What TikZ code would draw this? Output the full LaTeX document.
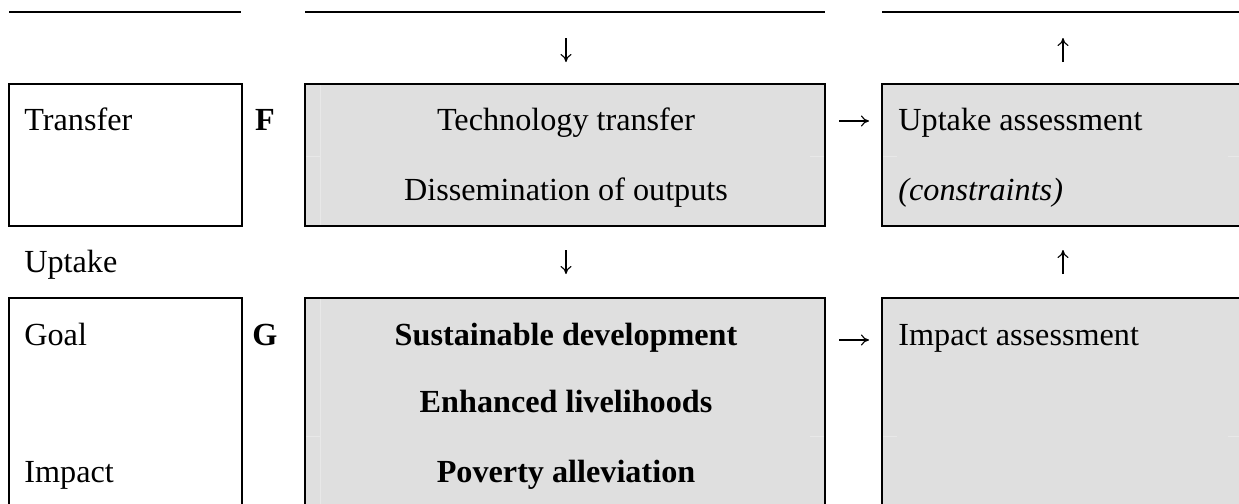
\documentclass[tikz,border=0pt]{standalone}
\usepackage{fontspec}
\setmainfont{Liberation Serif}
\usetikzlibrary{arrows.meta}
\definecolor{cellgray}{RGB}{223,223,223}
\definecolor{cellrule}{RGB}{232,232,232}

\begin{document}
\begin{tikzpicture}[x=0.5pt,y=-0.5pt,
  frame/.style={draw=black,line width=0.8pt,inner sep=0,outer sep=0},
  plainbox/.style={frame,fill=white},
  shaded/.style={frame,fill=cellgray},
  txt/.style={inner sep=0,font=\fontsize{16.1}{19}\selectfont},
  lbl/.style={txt,anchor=base west},
  ctr/.style={txt,anchor=base},
  flow/.style={line width=0.55pt,-{To[length=4pt,width=5.5pt]}},
  rule/.style={line width=0.8pt},
  faint/.style={draw=cellrule,line width=0.4pt}]
\useasboundingbox (0,0) rectangle (1239,504);
\clip (0,0) rectangle (1239,504);

% top rules of the three columns
\draw[rule] (9,12) -- (241,12);
\draw[rule] (305,12) -- (825,12);
\draw[rule] (882,12) -- (1245,12);

% row F boxes
\node[plainbox, minimum width=116.5pt, minimum height=71pt] (lf) at (125.5,155) {};
\node[shaded, minimum width=260pt, minimum height=71pt] (mf) at (565,155) {};
\node[shaded, minimum width=186pt, minimum height=71pt] (rf) at (1068,155) {};

% row G boxes
\node[plainbox, minimum width=116.5pt, minimum height=115pt] (lg) at (125.5,413) {};
\node[shaded, minimum width=260pt, minimum height=115pt] (mg) at (565,413) {};
\node[shaded, minimum width=186pt, minimum height=115pt] (rg) at (1068,413) {};

% faint cell rules inside the shaded boxes
\draw[faint] (320,85) -- (320,225);
\draw[faint] (306,156) -- (320,156);
\draw[faint] (810,156) -- (824,156);
\draw[faint] (883,156) -- (897,156);
\draw[faint] (1228,156) -- (1239,156);
\draw[faint] (320,299) -- (320,504);
\draw[faint] (306,436) -- (320,436);
\draw[faint] (810,436) -- (824,436);
\draw[faint] (883,436) -- (897,436);
\draw[faint] (1228,436) -- (1239,436);

% arrow end points
\coordinate (dn1a) at (566,38);  \coordinate (dn1b) at (566,62);
\coordinate (up1a) at (1063,62); \coordinate (up1b) at (1063,38);
\coordinate (dn2a) at (566,250); \coordinate (dn2b) at (566,274);
\coordinate (up2a) at (1063,274); \coordinate (up2b) at (1063,250);
\coordinate (rt1a) at (839,121); \coordinate (rt1b) at (869,121);
\coordinate (rt2a) at (839,340); \coordinate (rt2b) at (869,340);

\draw[flow] (dn1a) -- (dn1b);
\draw[flow] (up1a) -- (up1b);
\draw[flow] (dn2a) -- (dn2b);
\draw[flow] (up2a) -- (up2b);
\draw[flow] (rt1a) -- (rt1b);
\draw[flow] (rt2a) -- (rt2b);

% left column labels
\node[lbl] (ttransfer) at (24,130) {Transfer};
\node[lbl] (tuptake) at (24,272) {Uptake};
\node[lbl] (tgoal) at (24,345) {Goal};
\node[lbl] (timpact) at (24,482) {Impact};

% row letters
\node[ctr] (tf) at (265,130) {\textbf{F}};
\node[ctr] (tg) at (265,345) {\textbf{G}};

% middle column texts
\node[ctr] (ttech) at (566,130) {Technology transfer};
\node[ctr] (tdiss) at (566,200) {Dissemination of outputs};
\node[ctr] (tsust) at (566,345) {\textbf{Sustainable development}};
\node[ctr] (tenh) at (566,412) {\textbf{Enhanced livelihoods}};
\node[ctr] (tpov) at (566,482) {\textbf{Poverty alleviation}};

% right column texts
\node[lbl] (tupass) at (898,130) {Uptake assessment};
\node[lbl] (tcons) at (898,200) {\textit{(constraints)}};
\node[lbl] (timpass) at (898,345) {Impact assessment};
\end{tikzpicture}
\end{document}
